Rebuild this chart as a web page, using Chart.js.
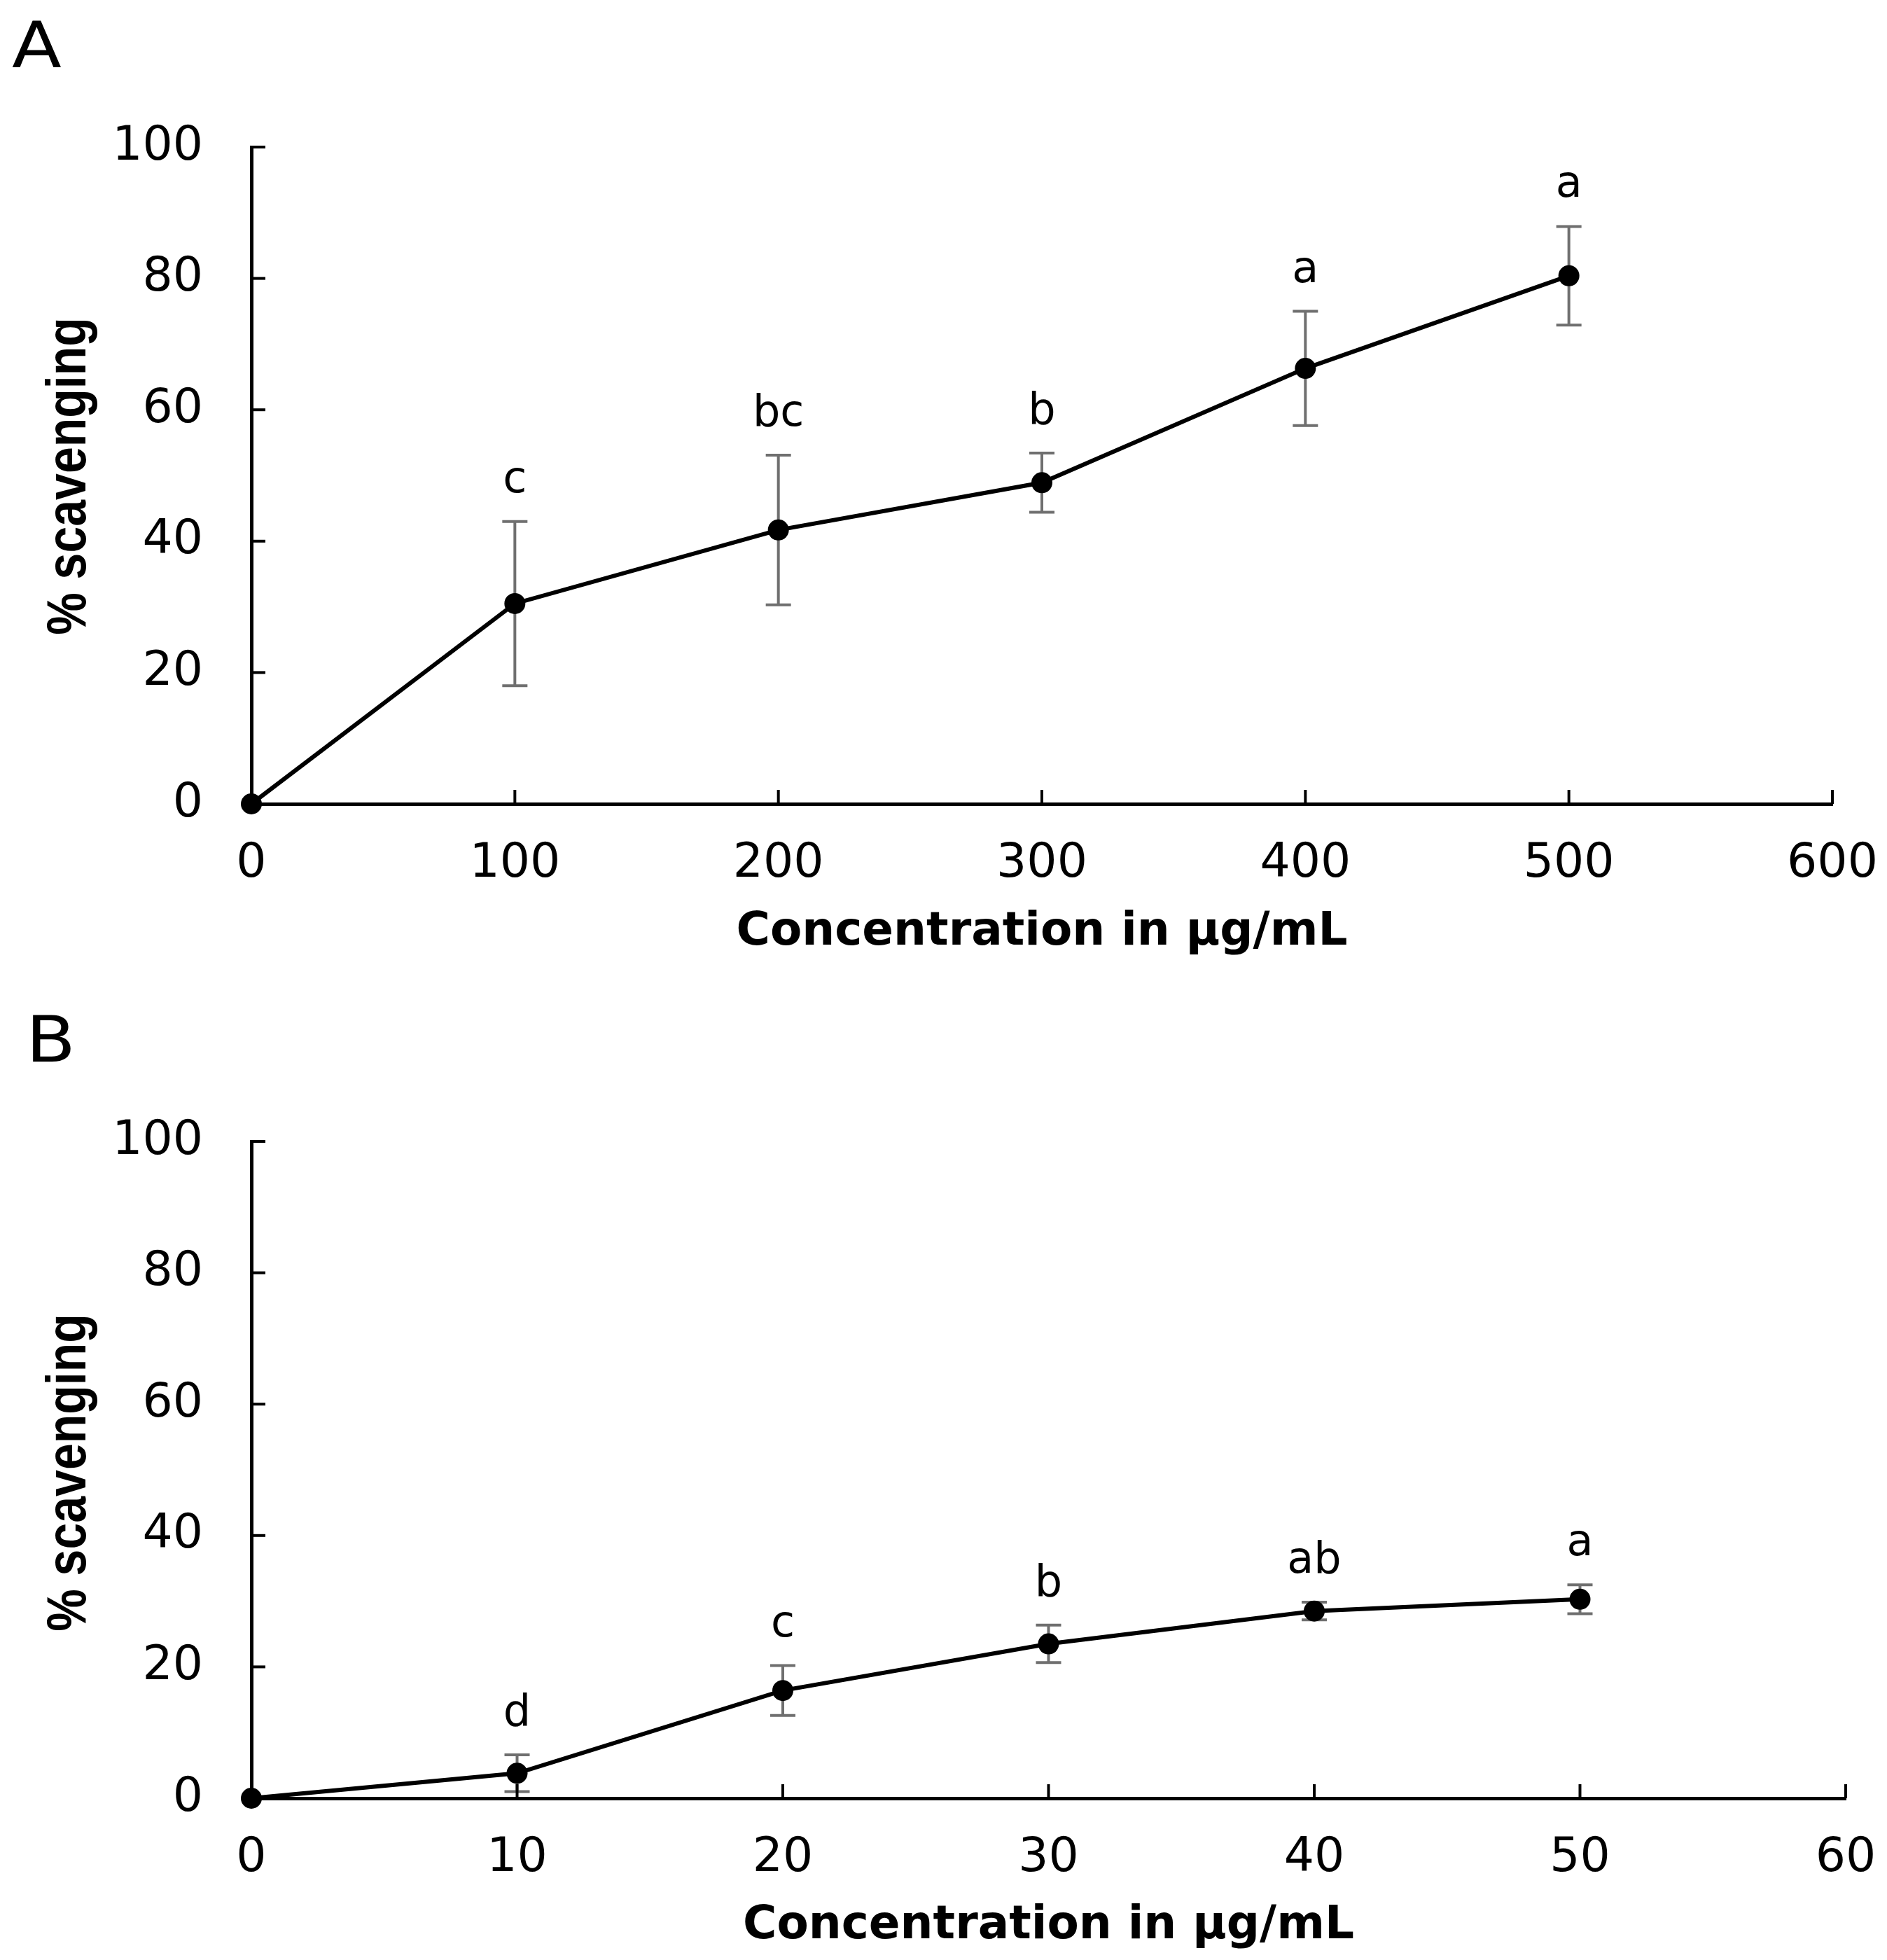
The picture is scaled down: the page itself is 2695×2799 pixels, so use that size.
<!DOCTYPE html>
<html>
<head>
<meta charset="utf-8">
<script src="https://cdn.jsdelivr.net/npm/chart.js@4.4.1/dist/chart.umd.min.js"></script>
<style>
  html, body { margin: 0; padding: 0; background: #ffffff; }
  #wrap { position: relative; width: 2695px; height: 2799px; background: #ffffff; }
  canvas { position: absolute; left: 0; }
</style>
</head>
<body>
<div id="wrap">
  <canvas id="chartA" width="2695" height="1400" style="top:0px;width:2695px;height:1400px"></canvas>
  <canvas id="chartB" width="2695" height="1399" style="top:1400px;width:2695px;height:1399px"></canvas>
</div>
<script>
// ---------- Data ----------
const concA = [0, 100, 200, 300, 400, 500];
const meanA = [0, 30.5, 41.7, 48.9, 66.3, 80.4];
const sdA   = [0, 12.5, 11.4, 4.5, 8.7, 7.5];
const lettersA = ['', 'c', 'bc', 'b', 'a', 'a'];

const concB = [0, 10, 20, 30, 40, 50];
const meanB = [0, 3.8, 16.4, 23.5, 28.5, 30.3];
const sdB   = [0, 2.8, 3.8, 2.85, 1.35, 2.2];
const lettersB = ['', 'd', 'c', 'b', 'ab', 'a'];

const yTickStep = 20;       // y ticks 0..100
const yMax = 100;
const xMaxA = 600, xStepA = 100;
const xMaxB = 60,  xStepB = 10;

const panelA = 'A', panelB = 'B';
const yTitle = '% scavenging';
const xTitle = 'Concentration in \u00b5g/mL';

// ---------- Helpers ----------
function makePlugin(opts) {
  return {
    id: 'extras' + opts.panel,
    beforeDatasetsDraw(chart) {
      const ctx = chart.ctx, xs = chart.scales.x, ys = chart.scales.y;
      ctx.save();
      ctx.strokeStyle = '#6f6f6f';
      ctx.lineWidth = 4;
      ctx.lineCap = 'butt';
      opts.x.forEach((xv, i) => {
        const sd = opts.sd[i];
        if (!sd) return;
        const px = xs.getPixelForValue(xv);
        const top = ys.getPixelForValue(opts.mean[i] + sd);
        const bot = ys.getPixelForValue(opts.mean[i] - sd);
        ctx.beginPath();
        ctx.moveTo(px, top); ctx.lineTo(px, bot);
        ctx.moveTo(px - 18, top); ctx.lineTo(px + 18, top);
        ctx.moveTo(px - 18, bot); ctx.lineTo(px + 18, bot);
        ctx.stroke();
      });
      ctx.restore();
    },
    afterDraw(chart) {
      const ctx = chart.ctx, xs = chart.scales.x, ys = chart.scales.y;
      const area = chart.chartArea;
      ctx.save();
      // inward tick marks
      ctx.strokeStyle = '#000';
      ctx.lineWidth = 4;
      ys.ticks.forEach(t => {
        const py = ys.getPixelForValue(t.value);
        ctx.beginPath(); ctx.moveTo(area.left, py); ctx.lineTo(area.left + 20, py); ctx.stroke();
      });
      xs.ticks.forEach(t => {
        const px = xs.getPixelForValue(t.value);
        ctx.beginPath(); ctx.moveTo(px, area.bottom); ctx.lineTo(px, area.bottom - 20); ctx.stroke();
      });
      // significance letters
      ctx.fillStyle = '#000';
      ctx.font = '62px "DejaVu Sans"';
      ctx.textAlign = 'center';
      ctx.textBaseline = 'alphabetic';
      opts.x.forEach((xv, i) => {
        const l = opts.letters[i];
        if (!l) return;
        const px = xs.getPixelForValue(xv);
        const top = ys.getPixelForValue(opts.mean[i] + opts.sd[i]);
        ctx.fillText(l, px, top - 42);
      });
      // y axis title (condensed bold)
      ctx.save();
      ctx.translate(122, opts.yTitleY);
      ctx.rotate(-Math.PI / 2);
      ctx.scale(0.85, 1);
      ctx.font = 'bold 80px "Liberation Sans"';
      ctx.textAlign = 'center';
      ctx.textBaseline = 'alphabetic';
      ctx.fillText(yTitle, 0, 0);
      ctx.restore();
      // panel label (slightly wide, as in the reference)
      ctx.save();
      ctx.translate(opts.panelX, opts.panelY);
      ctx.scale(1.15, 1);
      ctx.font = '90px "DejaVu Sans"';
      ctx.textAlign = 'left';
      ctx.textBaseline = 'alphabetic';
      ctx.fillText(opts.panel, 0, 0);
      ctx.restore();
      ctx.restore();
    }
  };
}

function buildChart(id, x, mean, sd, letters, xMax, xStep, o) {
  const canvas = document.getElementById(id);
  const H = canvas.height;
  return new Chart(canvas, {
    type: 'line',
    data: {
      datasets: [{
        data: x.map((v, i) => ({ x: v, y: mean[i] })),
        borderColor: '#000',
        borderWidth: 6,
        backgroundColor: '#000',
        pointRadius: 15,
        pointBackgroundColor: '#000',
        pointBorderWidth: 0,
        pointHoverRadius: 15,
        tension: 0,
        fill: false,
        clip: false
      }]
    },
    options: {
      responsive: false,
      devicePixelRatio: 1,
      animation: false,
      events: [],
      layout: { padding: { left: 0, top: o.top, right: 2695 - o.right, bottom: 0 } },
      plugins: { legend: { display: false }, tooltip: { enabled: false } },
      scales: {
        x: {
          type: 'linear', min: 0, max: xMax,
          ticks: { stepSize: xStep, color: '#000', font: { family: 'DejaVu Sans', size: 68, lineHeight: 1.2 }, padding: 46, maxRotation: 0 },
          grid: { display: false, drawTicks: false },
          border: { display: true, color: '#000', width: 5 },
          title: { display: true, text: xTitle, color: '#000',
                   font: { family: 'DejaVu Sans', weight: 'bold', size: 66, lineHeight: 1.2 },
                   padding: { top: 0, bottom: o.titlePad } },
          afterFit(scale) { scale.height = H - o.bottom; scale.paddingLeft = 0; scale.paddingRight = 0; }
        },
        y: {
          type: 'linear', min: 0, max: yMax,
          ticks: { stepSize: yTickStep, color: '#000', font: { family: 'DejaVu Sans', size: 68, lineHeight: 1.2 }, padding: 69 },
          grid: { display: false, drawTicks: false },
          border: { display: true, color: '#000', width: 5 },
          afterFit(scale) { scale.width = o.left; scale.paddingTop = 0; scale.paddingBottom = 0; }
        }
      }
    },
    plugins: [makePlugin({ x, mean, sd, letters, panel: o.panel, panelX: o.panelX, panelY: o.panelY, yTitleY: o.yTitleY })]
  });
}

buildChart('chartA', concA, meanA, sdA, lettersA, xMaxA, xStepA,
  { left: 359, top: 210, right: 2617, bottom: 1148, titlePad: 29, panel: panelA, panelX: 17, panelY: 96, yTitleY: 680 });
buildChart('chartB', concB, meanB, sdB, lettersB, xMaxB, xStepB,
  { left: 359, top: 230, right: 2636, bottom: 1168, titlePad: 9, panel: panelB, panelX: 37, panelY: 116, yTitleY: 703 });
</script>
</body>
</html>
